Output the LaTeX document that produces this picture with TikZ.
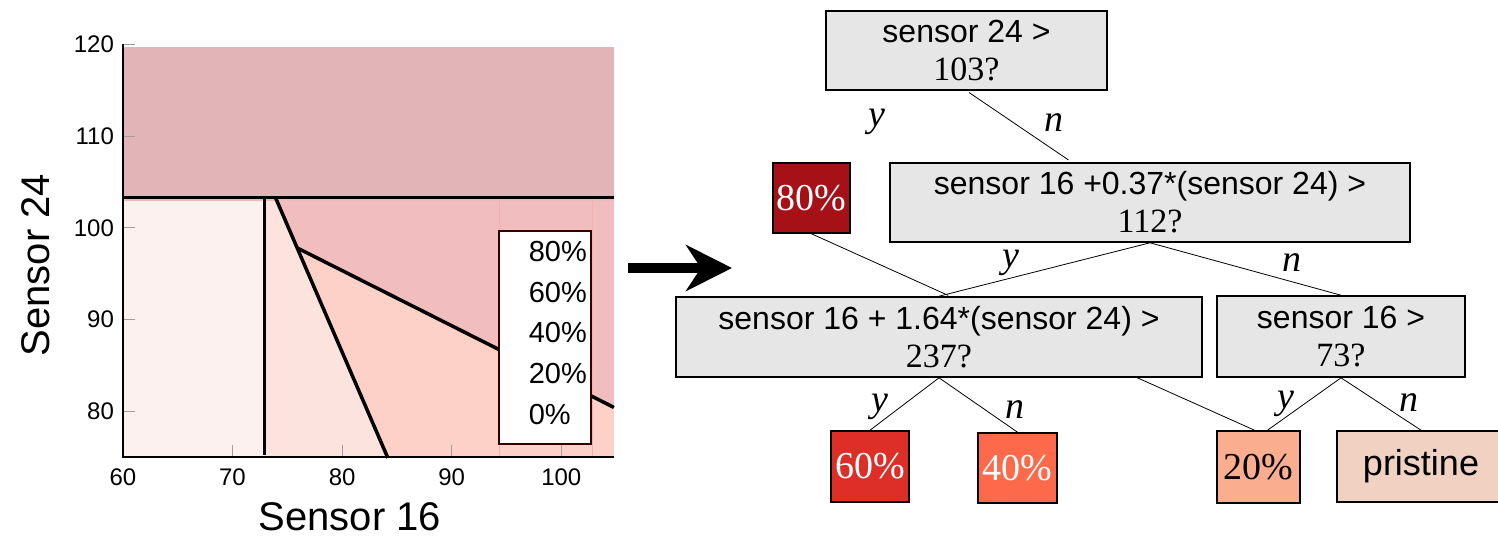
\documentclass[tikz,border=0pt]{standalone}
\usepackage{fontspec}
\setmainfont{Liberation Sans}
\newfontfamily\numfont{Liberation Serif}
\usetikzlibrary{arrows.meta,calc}
\definecolor{boxgray}{HTML}{E6E6E6}
\definecolor{rTop}{HTML}{E2B4B8}
\definecolor{rLeft}{HTML}{FCF1EF}
\definecolor{rMid}{HTML}{FDE3DD}
\definecolor{rLow}{HTML}{FDD0C8}
\definecolor{rUp}{HTML}{F2BDBE}
\definecolor{rBand}{HTML}{EDBBBC}
\definecolor{rEdge}{HTML}{F4B0AC}
\definecolor{lEighty}{HTML}{A51116}
\definecolor{lSixty}{HTML}{DE2E28}
\definecolor{lForty}{HTML}{FC6A4B}
\definecolor{lTwenty}{HTML}{FBAE8F}
\definecolor{lPris}{HTML}{F1D1C1}
\tikzset{
  tst/.style   = {draw, line width=1.6pt, fill=boxgray, align=center, inner sep=0pt,
                  font=\fontsize{32pt}{38pt}\selectfont},
  leaf/.style  = {draw, line width=1.6pt, inner sep=0pt,
                  font=\numfont\fontsize{38pt}{38pt}\selectfont},
  br/.style    = {line width=0.8pt},
  yn/.style    = {inner sep=0pt, font=\numfont\itshape\fontsize{38pt}{38pt}\selectfont},
  tkl/.style   = {inner sep=0pt, font=\fontsize{24pt}{24pt}\selectfont},
  axt/.style   = {inner sep=0pt, font=\fontsize{40pt}{40pt}\selectfont},
  legt/.style  = {inner sep=0pt, font=\fontsize{29pt}{29pt}\selectfont},
  tck/.style   = {gray!75, line width=0.8pt},
  bnd/.style   = {line width=3.5pt}
}
\newcommand{\thr}[1]{{\numfont\fontsize{34pt}{38pt}\selectfont #1}}

\begin{document}
\begin{tikzpicture}[x=1pt, y=-1pt]
\useasboundingbox (0,0) rectangle (1498,539);

% ---- regions of the sensor plane ----
\begin{scope}[shift={(122.9,456.9)}, x=10.96pt, y=9.165pt, shift={(-60,-75)}]
\fill[rTop]  (60,103.3) rectangle (104.8,119.7);
\fill[rLeft] (60,75) rectangle (72.9,103.3);
\fill[rMid]  (72.9,75) -- (72.9,103.3) -- (73.92,103.3) -- (75.9,97.8) -- (84.17,75) -- cycle;
\fill[rLow]  (84.17,75) -- (75.9,97.8) -- (104.8,80.4) -- (104.8,75) -- cycle;
\fill[rUp]   (73.92,103.3) -- (104.8,103.3) -- (104.8,80.4) -- (75.9,97.8) -- cycle;
\fill[rBand] (60,102.9) rectangle (104.8,103.3);
\draw[rEdge, line width=0.8pt] (94.35,75) -- (94.35,103.3);
\draw[rEdge, line width=0.8pt] (102.8,75) -- (102.8,103.3);

% ---- ticks and axes ----
\foreach \v in {80,90,...,120}
  \draw[tck] (60,\v) -- (61.1,\v);
\foreach \v in {70,80,90,100}
  \draw[tck] (\v,75) -- (\v,76.3);
\draw[line width=1.2pt] (60,120) -- (60,75) -- (104.8,75);
\foreach \v in {80,90,...,120}
  \node[tkl, anchor=east] (yt\v) at (59.2,\v) {\v};
\foreach \v in {60,70,...,100}
  \node[tkl] (xt\v) at (\v,72.74) {\v};

% ---- split lines ----
\draw[bnd] (60,103.3) -- (104.8,103.3);
\draw[bnd] (72.9,103.3) -- (72.9,75.2);
\draw[bnd] (73.92,103.3) -- (75.9,97.8) -- (84.17,74.9);
\draw[bnd] (75.9,97.8) -- (104.8,80.4);

% ---- legend ----
\draw[fill=white, draw=black!80!red, line width=1.5pt] (94.3,76.4) rectangle (102.7,99.66);
\end{scope}
\foreach \p [count=\i from 0] in {80,60,40,20,0}
  \node[legt, anchor=base west] (leg\p) at (528.6,261.7+40.6*\i) {\p\%};

\node[axt] (xlab) at (350,517) {Sensor 16};
\node[axt, rotate=90] (ylab) at (36,265) {Sensor 24};

% ---- arrow ----
\coordinate (arrS) at (628,268);
\coordinate (arrE) at (732,268);
\draw[line width=10pt, -{Stealth[length=46pt,width=46pt]}] (arrS) -- (arrE);

% ---- tree ----
\node[tst, minimum width=281pt, minimum height=79pt] (root) at (966.5,50.5) {sensor 24 >\\\thr{103?}};
\node[tst, minimum width=520pt, minimum height=79pt] (lin1) at (1150,202.5) {sensor 16 +0.37*(sensor 24) >\\\thr{112?}};
\node[leaf, fill=lEighty, text=white, minimum width=77pt, minimum height=70pt] (hi) at (811.5,198) {80\%};
\node[tst, minimum width=526pt, minimum height=80pt] (lin2) at (939,337) {sensor 16 + 1.64*(sensor 24) >\\\thr{237?}};
\node[tst, minimum width=248pt, minimum height=81pt] (thr) at (1341,336.5) {sensor 16 >\\\thr{73?}};
\node[leaf, fill=lSixty, text=white, minimum width=78pt, minimum height=71pt] (leaf60) at (870,466.5) {60\%};
\node[leaf, fill=lForty, text=white, minimum width=79pt, minimum height=70pt] (leaf40) at (1017.5,468) {40\%};
\node[leaf, fill=lTwenty, minimum width=83pt, minimum height=72pt] (leaf20) at (1258.5,467) {20\%};
\node[leaf, fill=lPris, font=\fontsize{36pt}{36pt}\selectfont, minimum width=168pt, minimum height=71pt] (pris) at (1421,466.5) {pristine};

\draw[br, shorten <=3pt, shorten >=4pt] (root.south) -- ($(lin1.north west)!.35!(lin1.north east)$);
\draw[br, shorten >=2pt] (hi.south) -- ($(lin2.north)+(11,0)$);
\draw[br] (lin1.south) -- (lin2.north);
\draw[br] (lin1.south) -- (thr.north);
\draw[br] (lin2.south) -- (leaf60.north);
\draw[br] (lin2.south) -- (leaf40.north);
\draw[br] ($(lin2.south west)!.876!(lin2.south east)$) -- ($(leaf20.north)+(-4,0)$);
\draw[br] (thr.south) -- ($(leaf20.north)+(9,0)$);
\draw[br] (thr.south) -- (pris.north);

\node[yn] (y0) at (877,122) {y};
\node[yn] (n0) at (1054,123) {n};
\node[yn] (y1) at (1011,263) {y};
\node[yn] (n1) at (1292,263) {n};
\node[yn] (y2) at (880,407) {y};
\node[yn] (n2) at (1015,410) {n};
\node[yn] (y3) at (1286,404) {y};
\node[yn] (n3) at (1409,403) {n};
\end{tikzpicture}
\end{document}
